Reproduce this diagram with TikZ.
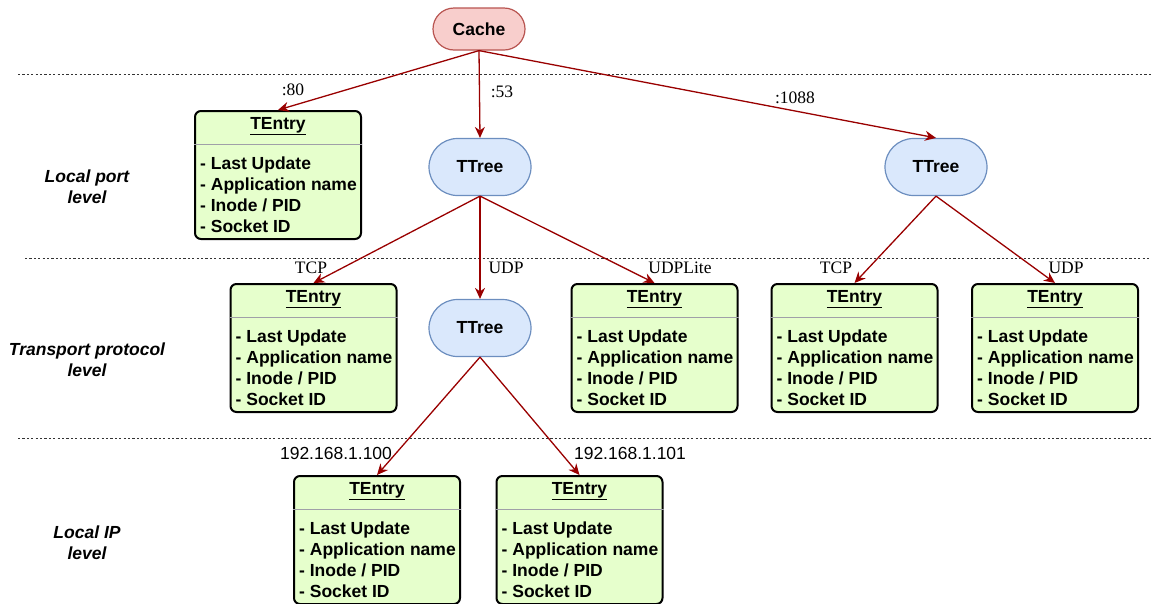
\documentclass[tikz,border=0pt]{standalone}
\usepackage{fontspec}
\setmainfont{Liberation Sans}
\newfontfamily\edgeserif{Liberation Serif}
\usetikzlibrary{arrows.meta,shapes.misc}

\definecolor{cachefill}{HTML}{F8CECC}
\definecolor{cacheline}{HTML}{B85450}
\definecolor{treefill}{HTML}{DAE8FC}
\definecolor{treeline}{HTML}{6C8EBF}
\definecolor{entryfill}{HTML}{E6FFCC}
\definecolor{linkred}{HTML}{990000}
\definecolor{sepgray}{HTML}{A0A0A8}

\tikzset{
  cachebox/.style={rounded rectangle, draw=cacheline, fill=cachefill, line width=1.2pt,
    minimum width=92pt, minimum height=42pt, inner sep=0pt,
    font=\fontsize{17.5}{21}\selectfont\bfseries},
  treebox/.style={rounded rectangle, draw=treeline, fill=treefill, line width=1.2pt,
    minimum width=102pt, minimum height=57pt, inner sep=0pt,
    font=\fontsize{17.5}{21}\selectfont\bfseries},
  entrybox/.style={rectangle, rounded corners=6pt, draw=black, fill=entryfill, line width=2pt,
    minimum width=166pt, minimum height=128pt, inner sep=0pt, anchor=north},
  entrytitle/.style={inner sep=0pt, font=\fontsize{17.5}{21}\selectfont\bfseries},
  entryitems/.style={inner sep=0pt, align=left, anchor=north west,
    font=\fontsize{17.5}{21}\selectfont\bfseries},
  sepline/.style={draw=sepgray, line width=1pt},
  link/.style={draw=linkred, line width=1.3pt, -{Stealth[length=11pt,width=10pt]}},
  edgelabel/.style={inner sep=0pt, font=\fontsize{17.5}{21}\selectfont\edgeserif},
  iplabel/.style={inner sep=0pt, font=\fontsize{17.5}{21}\selectfont},
  levellabel/.style={inner sep=0pt, align=center, font=\fontsize{17.5}{21}\selectfont\bfseries\itshape},
  levelrule/.style={line width=0.8pt, dash pattern=on 2.2pt off 2.2pt, draw=black!80},
}

% entry record: name, centre x, top y
\newcommand\tentry[3]{%
  \node[entrybox] (#1) at (#2,#3) {};
  \node[entrytitle] (#1-title) at ([yshift=-16pt]#1.north) {\underline{TEntry}};
  \draw[sepline] ([yshift=-34pt]#1.north west) -- ([yshift=-34pt]#1.north east);
  \node[entryitems] (#1-items) at ([xshift=6pt,yshift=-47pt]#1.north west)
    {- Last Update\\- Application name\\- Inode / PID\\- Socket ID};
}

\begin{document}
\begin{tikzpicture}[x=1pt,y=-1pt]
\useasboundingbox (0,0) rectangle (1151,603);

% level separators
\coordinate (r1a) at (18,74);   \coordinate (r1b) at (1151,74);
\coordinate (r2a) at (25,258);  \coordinate (r2b) at (1151,258);
\coordinate (r3a) at (18,438);  \coordinate (r3b) at (1151,438);
\draw[levelrule] (r1a) -- (r1b);
\draw[levelrule] (r2a) -- (r2b);
\draw[levelrule] (r3a) -- (r3b);

% level names
\node[levellabel] (lv1) at (87,187) {Local port\\level};
\node[levellabel] (lv2) at (87,360) {Transport protocol\\level};
\node[levellabel] (lv3) at (87,543) {Local IP\\level};

% tree nodes
\node[cachebox] (cache) at (479,29) {Cache};
\node[treebox] (tree1) at (480,167) {TTree};
\node[treebox] (tree2) at (936,167) {TTree};
\node[treebox] (tree3) at (480,328) {TTree};

% entries
\tentry{e80}{278}{110}
\tentry{etcp}{313.5}{283}
\tentry{elite}{654.5}{283}
\tentry{etcpb}{854.5}{283}
\tentry{eudpb}{1055}{283}
\tentry{eip0}{377}{475}
\tentry{eip1}{579.5}{475}

% links
\draw[link] (cache.south) -- (e80.north);
\draw[link] (cache.south) -- (tree1.north);
\draw[link] (cache.south) -- (tree2.north);
\draw[link] (tree1.south) -- (etcp.north);
\draw[link] (tree1.south) -- (tree3.north);
\draw[link] (tree1.south) -- (elite.north);
\draw[link] (tree2.south) -- (etcpb.north);
\draw[link] (tree2.south) -- (eudpb.north);
\draw[link] (tree3.south) -- (eip0.north);
\draw[link] (tree3.south) -- (eip1.north);

% link labels
\node[edgelabel] (l80) at (293,90) {:80};
\node[edgelabel] (l53) at (502,92) {:53};
\node[edgelabel] (l1088) at (795,98) {:1088};
\node[edgelabel] (ltcp) at (311,268) {TCP};
\node[edgelabel] (ludp) at (506,268) {UDP};
\node[edgelabel] (llite) at (680,268) {UDPLite};
\node[edgelabel] (ltcpb) at (836,268) {TCP};
\node[edgelabel] (ludpb) at (1066,268) {UDP};
\node[iplabel] (lip0) at (336,453) {192.168.1.100};
\node[iplabel] (lip1) at (630,453) {192.168.1.101};
\end{tikzpicture}
\end{document}
